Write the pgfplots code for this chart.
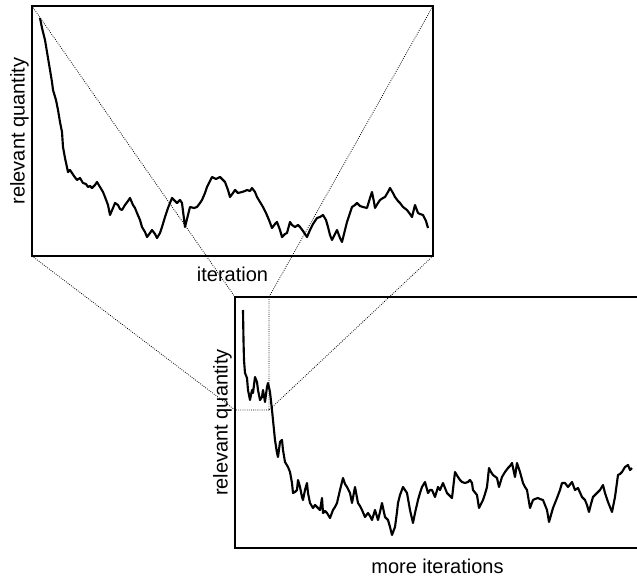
\documentclass[border=0pt]{standalone}
\usepackage{pgfplots}
\pgfplotsset{compat=1.18}
\usepackage{fontspec}
\setmainfont{Liberation Sans}
\newcommand\lbl{\fontsize{15}{18}\selectfont}
\begin{document}
\begin{tikzpicture}
\pgfplotsset{
  myaxis/.style={
    scale only axis,
    y dir=reverse,
    xtick=\empty, ytick=\empty,
    axis line style={line width=1.5pt},
    every axis x label/.style={at={(axis description cs:0.5,0)}, anchor=base, yshift=-19pt, font=\lbl},
    every axis y label/.style={at={(axis description cs:0,0.5)}, xshift=-5.6pt, rotate=90, anchor=base, font=\lbl},
  }
}
\begin{axis}[myaxis, name=top,
  at={(24pt,-4.5pt)}, anchor=north west,
  width=300.75pt, height=187.5pt,
  xmin=32, xmax=433, ymin=6, ymax=256,
  xlabel={iteration}, ylabel={relevant quantity}]
\addplot[black, line width=1.6pt, line join=round] coordinates {
(40,18)(42,28)(45,40)(47,52)(50,70)(52,82)(53,90)(56,100)(58,110)(60,122)(62,132)(63,147)(65,158)(68,172)(70,170)(72,173)(74,176)(77,180)(80,178)(83,183)(86,184)(88,187)(90,186)(92,188)(95,185)(97,182)(100,187)(103,192)(105,197)(108,205)(110,215)(113,208)(115,203)(118,205)(120,209)(122,210)(125,205)(128,201)(130,198)(133,205)(135,208)(137,213)(140,220)(142,227)(145,232)(147,237)(150,233)(152,230)(155,234)(157,238)(160,233)(162,227)(165,217)(168,208)(172,198)(175,201)(177,203)(180,200)(182,203)(185,227)(188,215)(190,207)(194,208)(197,207)(200,203)(202,200)(205,193)(207,187)(210,181)(212,177)(216,179)(220,177)(225,182)(228,190)(230,197)(233,193)(235,190)(238,193)(242,192)(245,191)(247,190)(250,191)(252,188)(255,192)(257,197)(260,202)(263,207)(266,213)(269,220)(272,228)(275,224)(277,222)(280,230)(282,237)(285,234)(287,233)(290,222)(292,225)(295,227)(298,225)(300,227)(303,231)(307,237)(310,230)(313,224)(317,218)(320,217)(323,215)(326,220)(328,227)(330,235)(332,240)(335,234)(337,230)(340,238)(342,242)(345,230)(347,222)(350,213)(352,207)(355,205)(357,203)(360,206)(363,207)(367,208)(370,198)(372,192)(374,202)(375,208)(378,203)(380,200)(383,198)(385,197)(388,192)(390,188)(393,193)(395,197)(398,201)(400,203)(403,207)(407,210)(410,214)(412,217)(415,205)(418,213)(420,214)(423,215)(426,221)(428,228)
};
\coordinate (t1) at (axis cs:32,6);
\coordinate (t2) at (axis cs:433,6);
\coordinate (t3) at (axis cs:32,256);
\coordinate (t4) at (axis cs:433,256);
\end{axis}
\begin{axis}[myaxis, name=bottom,
  at={(176.25pt,-222.75pt)}, anchor=north west,
  width=303.75pt, height=188.25pt,
  xmin=235, xmax=640, ymin=297, ymax=548,
  xlabel={more iterations}, ylabel={relevant quantity}]
\addplot[black, line width=1.6pt, line join=round] coordinates {
(243,310)(243.5,340)(244,360)(245,373)(247,378)(248,390)(250,400)(252,390)(253,393)(255,377)(257,382)(258,390)(260,400)(262,397)(263,390)(265,402)(267,387)(268,383)(270,392)(272,410)(273,420)(275,440)(277,453)(278,457)(280,442)(282,440)(283,450)(285,462)(288,467)(290,472)(292,483)(293,493)(295,492)(297,490)(298,480)(300,487)(302,497)(303,500)(305,490)(307,483)(308,493)(310,503)(313,508)(315,505)(317,507)(320,510)(322,498)(323,513)(325,511)(327,513)(330,518)(333,510)(335,507)(337,503)(340,490)(343,478)(345,484)(347,487)(350,493)(352,503)(355,487)(358,503)(360,506)(362,510)(365,517)(368,513)(370,516)(372,520)(375,510)(378,520)(380,512)(382,503)(385,517)(388,520)(390,527)(392,535)(395,527)(397,512)(398,503)(400,495)(403,487)(405,490)(407,493)(410,510)(413,523)(415,513)(418,500)(420,493)(422,487)(425,482)(428,493)(430,490)(432,490)(435,497)(438,487)(440,490)(443,483)(447,493)(450,496)(452,498)(455,472)(458,477)(460,480)(462,482)(465,483)(468,482)(470,480)(472,483)(473,490)(477,495)(479,508)(481,504)(483,500)(485,494)(487,487)(489,468)(491,472)(493,475)(497,478)(499,487)(502,477)(505,472)(508,468)(510,466)(512,463)(515,477)(517,463)(520,472)(523,483)(525,487)(527,490)(530,508)(533,500)(535,499)(538,498)(540,499)(543,500)(547,510)(549,522)(551,515)(553,508)(557,498)(560,490)(562,483)(565,483)(568,487)(572,482)(575,490)(578,488)(582,497)(585,500)(587,505)(589,512)(591,504)(593,497)(597,493)(600,490)(603,485)(605,493)(608,502)(610,507)(612,512)(615,497)(618,475)(620,474)(622,472)(625,467)(628,465)(630,470)(632,468)
};
\coordinate (b1) at (axis cs:235,297);
\coordinate (b2) at (axis cs:269,297);
\coordinate (b3) at (axis cs:235,410);
\coordinate (b4) at (axis cs:269,410);
\end{axis}
\draw[densely dotted, line width=0.6pt, black] (t1)--(b1) (t2)--(b2) (t3)--(b3) (t4)--(b4) (b2)--(b4)--(b3);
\pgfresetboundingbox
\useasboundingbox (0pt,0pt) rectangle (477.75pt,-432.75pt);
\end{tikzpicture}
\end{document}
